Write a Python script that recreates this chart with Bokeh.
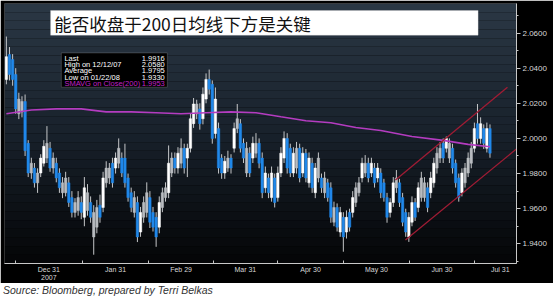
import numpy as np
from bokeh.plotting import figure
from bokeh.models import (ColumnDataSource, Range1d, BoxAnnotation, Label, FixedTicker,
                          SingleIntervalTicker, NumeralTickFormatter, Div)
from bokeh.layouts import column
from bokeh.embed import file_html
from bokeh.resources import INLINE

# ---------------- data (GBP/USD daily, Dec 2007 - Jul 2008) ----------------
open_ = [2.0336, 2.0477, 2.0449, 2.0364, 2.0140, 2.0150, 2.0210, 1.9972, 1.9803, 1.9831,
         1.9747, 1.9803, 1.9859, 1.9888, 1.9944, 1.9831, 1.9859, 1.9803, 1.9691, 1.9691,
         1.9747, 1.9663, 1.9579, 1.9590, 1.9635, 1.9551, 1.9590, 1.9635, 1.9439, 1.9495,
         1.9620, 1.9607, 1.9747, 1.9775, 1.9859, 1.9831, 1.9859, 1.9888, 1.9888, 1.9775,
         1.9691, 1.9579, 1.9635, 1.9467, 1.9551, 1.9579, 1.9663, 1.9579, 1.9551, 1.9495,
         1.9607, 1.9663, 1.9691, 1.9803, 1.9888, 1.9831, 1.9859, 1.9944, 1.9888, 1.9944,
         2.0084, 2.0140, 2.0168, 2.0112, 2.0224, 2.0336, 2.0308, 2.0028, 2.0056, 1.9888,
         1.9803, 1.9831, 1.9888, 1.9944, 2.0056, 2.0084, 1.9972, 1.9803, 1.9916, 1.9888,
         1.9916, 1.9972, 1.9888, 1.9719, 1.9775, 1.9663, 1.9775, 1.9663, 1.9803, 1.9888,
         2.0000, 1.9944, 1.9803, 1.9831, 1.9944, 1.9803, 1.9916, 1.9747, 1.9859, 1.9691,
         1.9775, 1.9775, 1.9691, 1.9747, 1.9719, 1.9523, 1.9607, 1.9467, 1.9551, 1.9467,
         1.9579, 1.9579, 1.9635, 1.9691, 1.9775, 1.9803, 1.9859, 1.9803, 1.9831, 1.9775,
         1.9803, 1.9747, 1.9663, 1.9579, 1.9635, 1.9719, 1.9747, 1.9663, 1.9579, 1.9439,
         1.9523, 1.9635, 1.9607, 1.9663, 1.9663, 1.9719, 1.9691, 1.9747, 1.9831, 1.9888,
         1.9972, 1.9944, 1.9888, 1.9944, 1.9859, 1.9775, 1.9691, 1.9747, 1.9803, 1.9859,
         1.9944, 2.0084, 2.0000, 2.0056, 1.9944, 2.0056]
high = [2.0580, 2.0520, 2.0480, 2.0400, 2.0260, 2.0240, 2.0250, 1.9990, 1.9890, 1.9860,
        1.9830, 1.9910, 1.9990, 2.0070, 1.9980, 1.9920, 1.9890, 1.9830, 1.9780, 1.9810,
        1.9780, 1.9700, 1.9660, 1.9700, 1.9670, 1.9780, 1.9740, 1.9670, 1.9620, 1.9650,
        1.9680, 1.9810, 1.9870, 1.9860, 1.9890, 1.9920, 2.0000, 1.9920, 1.9970, 1.9800,
        1.9720, 1.9700, 1.9670, 1.9610, 1.9670, 1.9750, 1.9700, 1.9610, 1.9580, 1.9670,
        1.9720, 1.9750, 1.9960, 1.9920, 1.9920, 1.9950, 2.0000, 1.9970, 1.9970, 2.0140,
        2.0230, 2.0220, 2.0200, 2.0290, 2.0370, 2.0392, 2.0330, 2.0290, 2.0090, 1.9910,
        1.9900, 1.9930, 1.9910, 2.0090, 2.0196, 2.0110, 2.0000, 1.9980, 1.9950, 2.0010,
        2.0030, 2.0000, 1.9920, 1.9840, 1.9800, 1.9840, 1.9800, 1.9840, 1.9950, 2.0040,
        2.0030, 1.9970, 1.9950, 1.9980, 1.9970, 1.9950, 1.9940, 1.9920, 1.9890, 1.9860,
        1.9920, 1.9800, 1.9810, 1.9770, 1.9750, 1.9640, 1.9630, 1.9610, 1.9580, 1.9590,
        1.9600, 1.9700, 1.9750, 1.9780, 1.9890, 1.9905, 1.9890, 1.9890, 1.9860, 1.9860,
        1.9830, 1.9770, 1.9690, 1.9660, 1.9780, 1.9820, 1.9770, 1.9690, 1.9600, 1.9580,
        1.9670, 1.9660, 1.9750, 1.9810, 1.9780, 1.9750, 1.9810, 1.9890, 1.9950, 1.9980,
        2.0000, 2.0011, 2.0000, 1.9970, 1.9880, 1.9800, 1.9830, 1.9860, 1.9920, 1.9980,
        2.0090, 2.0196, 2.0120, 2.0080, 2.0090, 2.0080]
low = [2.0308, 2.0330, 2.0300, 2.0140, 2.0110, 2.0120, 1.9900, 1.9780, 1.9770, 1.9720,
       1.9690, 1.9780, 1.9840, 1.9860, 1.9810, 1.9800, 1.9750, 1.9690, 1.9660, 1.9670,
       1.9610, 1.9550, 1.9550, 1.9560, 1.9540, 1.9500, 1.9560, 1.9520, 1.9338, 1.9460,
       1.9520, 1.9580, 1.9720, 1.9740, 1.9720, 1.9800, 1.9830, 1.9780, 1.9720, 1.9640,
       1.9580, 1.9550, 1.9410, 1.9440, 1.9520, 1.9550, 1.9490, 1.9470, 1.9383, 1.9460,
       1.9580, 1.9640, 1.9660, 1.9780, 1.9800, 1.9800, 1.9830, 1.9800, 1.9780, 1.9920,
       2.0060, 2.0110, 2.0050, 2.0080, 2.0200, 2.0250, 1.9970, 2.0000, 1.9800, 1.9770,
       1.9770, 1.9810, 1.9800, 1.9920, 2.0030, 1.9920, 1.9860, 1.9780, 1.9780, 1.9860,
       1.9890, 1.9830, 1.9660, 1.9690, 1.9660, 1.9640, 1.9607, 1.9640, 1.9780, 1.9860,
       1.9800, 1.9780, 1.9780, 1.9800, 1.9750, 1.9780, 1.9750, 1.9720, 1.9690, 1.9660,
       1.9750, 1.9690, 1.9660, 1.9640, 1.9520, 1.9500, 1.9470, 1.9440, 1.9355, 1.9430,
       1.9470, 1.9550, 1.9610, 1.9670, 1.9750, 1.9780, 1.9750, 1.9780, 1.9720, 1.9750,
       1.9660, 1.9640, 1.9520, 1.9550, 1.9610, 1.9690, 1.9610, 1.9500, 1.9440, 1.9411,
       1.9500, 1.9530, 1.9580, 1.9640, 1.9640, 1.9580, 1.9660, 1.9720, 1.9800, 1.9860,
       1.9860, 1.9920, 1.9860, 1.9800, 1.9720, 1.9640, 1.9670, 1.9720, 1.9780, 1.9830,
       1.9920, 1.9970, 1.9970, 1.9940, 1.9920, 1.9890]
close = [2.0465, 2.0364, 2.0336, 2.0168, 2.0224, 2.0210, 1.9930, 1.9803, 1.9859, 1.9747,
         1.9803, 1.9888, 1.9955, 1.9972, 1.9831, 1.9888, 1.9775, 1.9719, 1.9747, 1.9775,
         1.9635, 1.9579, 1.9635, 1.9663, 1.9579, 1.9719, 1.9691, 1.9551, 1.9579, 1.9607,
         1.9551, 1.9775, 1.9831, 1.9831, 1.9747, 1.9888, 1.9944, 1.9803, 1.9747, 1.9663,
         1.9607, 1.9663, 1.9439, 1.9579, 1.9635, 1.9691, 1.9523, 1.9495, 1.9439, 1.9635,
         1.9691, 1.9719, 1.9859, 1.9888, 1.9831, 1.9916, 1.9944, 1.9831, 1.9944, 2.0112,
         2.0196, 2.0196, 2.0084, 2.0252, 2.0336, 2.0280, 2.0000, 2.0224, 1.9831, 1.9803,
         1.9870, 1.9888, 1.9831, 2.0056, 2.0112, 1.9944, 1.9888, 1.9944, 1.9803, 1.9972,
         1.9972, 1.9859, 1.9691, 1.9803, 1.9691, 1.9803, 1.9635, 1.9803, 1.9916, 2.0000,
         1.9831, 1.9803, 1.9916, 1.9944, 1.9775, 1.9916, 1.9775, 1.9888, 1.9719, 1.9831,
         1.9888, 1.9719, 1.9775, 1.9663, 1.9551, 1.9607, 1.9495, 1.9579, 1.9439, 1.9551,
         1.9495, 1.9663, 1.9719, 1.9747, 1.9859, 1.9859, 1.9775, 1.9859, 1.9747, 1.9831,
         1.9691, 1.9663, 1.9551, 1.9635, 1.9747, 1.9775, 1.9635, 1.9523, 1.9467, 1.9551,
         1.9635, 1.9551, 1.9719, 1.9775, 1.9747, 1.9607, 1.9775, 1.9859, 1.9916, 1.9944,
         1.9888, 2.0000, 1.9972, 1.9831, 1.9747, 1.9663, 1.9803, 1.9831, 1.9888, 1.9944,
         2.0056, 2.0000, 2.0084, 1.9972, 2.0056, 1.9916]

# 200-day simple moving average (sampled along the trading-day index)
ma_idx = [0, 8, 16, 24, 32, 40, 48, 56, 64, 72, 80, 88, 96, 104, 112, 120, 130, 140, 148, 155]
ma_val = [2.0140, 2.0162, 2.0168, 2.0168, 2.0151, 2.0151, 2.0146, 2.0140, 2.0146, 2.0151,
          2.0146, 2.0123, 2.0101, 2.0089, 2.0062, 2.0045, 2.0011, 1.9989, 1.9966, 1.9953]

# rising channel lines
chan_up_idx = [124.7, 160.6]
chan_up_val = [1.9764, 2.0291]
chan_lo_idx = [127.9, 165.0]
chan_lo_val = [1.9422, 1.9962]

# month labels (trading-day index) and month boundary ticks
month_labels = ["Dec 31\n2007", "Jan 31", "Feb 29", "Mar 31", "Apr 30", "May 30", "Jun 30", "Jul 31"]
month_label_idx = [13.6, 35.0, 56.0, 76.6, 97.5, 118.6, 139.6, 158.3]
month_bound_idx = [2.9, 24.4, 45.5, 66.3, 86.9, 108.0, 129.2, 150.0]

title_text = "能否收盘于200日均线下方是关键"
info_names = ["Last", "High on  12/12/07", "Average", "Low on  01/22/08", "SMAVG on Close(200)"]
info_vals = ["1.9916", "2.0580", "1.9795", "1.9330", "1.9953"]
last_price = 1.9916
last_ma = 1.9953
source_text = "Source: Bloomberg, prepared by Terri Belkas"

# ---------------- figure ----------------
X0, X1 = -0.6, 163.5
Y0, Y1 = 1.9288, 2.0768

p = figure(width=553, height=283, output_backend="svg", toolbar_location=None,
           x_range=Range1d(X0, X1), y_range=Range1d(Y0, Y1), y_axis_location="right",
           min_border_left=4, min_border_top=3, min_border_right=37, min_border_bottom=16)
p.background_fill_color = "#000000"
p.border_fill_color = "#000000"
p.outline_line_color = None
p.xgrid.visible = False
p.ygrid.visible = False

# vertical gradient background (dark slate at top -> black at bottom)
nb = 30
top_c = np.array([42, 55, 68])
mid_c = np.array([24, 33, 43])
bot_c = np.array([5, 6, 8])
for k in range(nb):
    f = k / (nb - 1)  # 0 at top
    if f < 0.5:
        cc_ = top_c + (mid_c - top_c) * (f / 0.5)
    else:
        cc_ = mid_c + (bot_c - mid_c) * ((f - 0.5) / 0.5)
    col = "#%02x%02x%02x" % tuple(int(round(v)) for v in cc_)
    hi = Y1 - (Y1 - Y0) * k / nb
    lo = Y1 - (Y1 - Y0) * (k + 1) / nb
    p.add_layout(BoxAnnotation(bottom=lo, top=hi + 1e-5, fill_color=col, fill_alpha=1.0,
                               line_color=None, level="underlay"))

# candles
o = np.array(open_)
c = np.array(close)
h = np.array(high)
l = np.array(low)
idx = np.arange(len(o))
prev_c = np.concatenate([[o[0]], c[:-1]])
colors = []
for oo, cc, pc in zip(o, c, prev_c):
    if cc < oo:
        colors.append("#2088ea")
    elif cc - pc > 0.006:
        colors.append("#ffffff")
    else:
        colors.append("#b9bcc0")
src = ColumnDataSource(dict(x=idx, o=o, c=c, h=h, l=l,
                            top=np.maximum(o, c), bot=np.minimum(o, c), col=colors))
p.segment(x0="x", y0="l", x1="x", y1="h", source=src, line_color="#c4c6c8", line_width=1)
p.vbar(x="x", width=0.78, top="top", bottom="bot", source=src,
       fill_color="col", line_color="col", line_width=0.5)

# 200-day moving average
p.line(ma_idx, ma_val, line_color="#b43cc0", line_width=1.6)

# channel lines
p.line(chan_up_idx, chan_up_val, line_color="#a01c34", line_width=1.3)
p.line(chan_lo_idx, chan_lo_val, line_color="#a01c34", line_width=1.3)

# title box
xs = lambda px: X0 + (X1 - X0) * px
ys = lambda py: Y1 - (Y1 - Y0) * py
p.add_layout(BoxAnnotation(left=xs(0.090), right=xs(0.925), top=ys(0.027), bottom=ys(0.122),
                           fill_color="#ffffff", fill_alpha=1.0, line_color="#d0d0d0", line_width=1))
p.add_layout(Label(x=xs(0.097), y=ys(0.075), text=title_text, text_font="Noto Sans CJK SC",
                   text_font_size="17.5px", text_color="#111111", text_baseline="middle"))

# info box
p.add_layout(BoxAnnotation(left=xs(0.111), right=xs(0.318), top=ys(0.190), bottom=ys(0.322),
                           fill_color="#000000", fill_alpha=1.0, line_color="#9a9a9a", line_width=1))
row_y = [0.210, 0.235, 0.259, 0.284, 0.308]
for k, (nm, vv) in enumerate(zip(info_names, info_vals)):
    tc = "#c020c8" if k == 4 else "#ffffff"
    p.add_layout(Label(x=xs(0.117), y=ys(row_y[k]), text=nm, text_font="Liberation Sans",
                       text_font_size="7.5px", text_color=tc, text_baseline="middle"))
    p.add_layout(Label(x=xs(0.313), y=ys(row_y[k]), text=vv, text_font="Liberation Sans",
                       text_font_size="7.5px", text_color=tc, text_baseline="middle", text_align="right"))

# price tags on right axis
p.add_layout(Label(x=X1 + 0.7, y=last_ma, text="%.4f" % last_ma, text_font="Liberation Sans",
                   text_font_size="7.5px", text_color="#ffe0ff", text_baseline="middle",
                   background_fill_color="#e010e0", background_fill_alpha=1.0))
p.add_layout(Label(x=X1 + 0.7, y=last_price, text="%.4f" % last_price, text_font="Liberation Sans",
                   text_font_size="7.5px", text_color="#000000", text_baseline="middle",
                   background_fill_color="#ffffff", background_fill_alpha=1.0))

# axes
xa = p.xaxis[0]
xa.ticker = FixedTicker(ticks=month_label_idx, minor_ticks=month_bound_idx)
xa.major_label_overrides = {float(k): v for k, v in zip(month_label_idx, month_labels)}
xa.major_tick_in = 0
xa.major_tick_out = 0
xa.minor_tick_in = 3
xa.minor_tick_out = 0
xa.minor_tick_line_color = "#c8c8c8"
xa.axis_line_color = "#c8c8c8"
xa.major_label_text_font = "Liberation Sans"
xa.major_label_text_font_size = "7px"
xa.major_label_text_color = "#d8d8d8"
xa.major_label_standoff = 2

ya = p.yaxis[0]
ya.ticker = SingleIntervalTicker(interval=0.02, num_minor_ticks=2)
ya.formatter = NumeralTickFormatter(format="0.0000")
ya.major_tick_in = 0
ya.major_tick_out = 4
ya.minor_tick_in = 0
ya.minor_tick_out = 2
ya.major_tick_line_color = "#c8c8c8"
ya.minor_tick_line_color = "#c8c8c8"
ya.axis_line_color = "#c8c8c8"
ya.major_label_text_font = "Liberation Sans"
ya.major_label_text_font_size = "8px"
ya.major_label_text_color = "#d8d8d8"
ya.major_label_standoff = 2

src_div = Div(text=source_text, width=553, height=16, margin=(0, 0, 0, 3),
              styles={"font-family": "Liberation Sans, Arial, sans-serif", "font-style": "italic",
                      "font-size": "10.5px", "color": "#333333", "line-height": "14px"})

layout = column(p, src_div, spacing=0)
open("out.html", "w").write(file_html(layout, INLINE))
